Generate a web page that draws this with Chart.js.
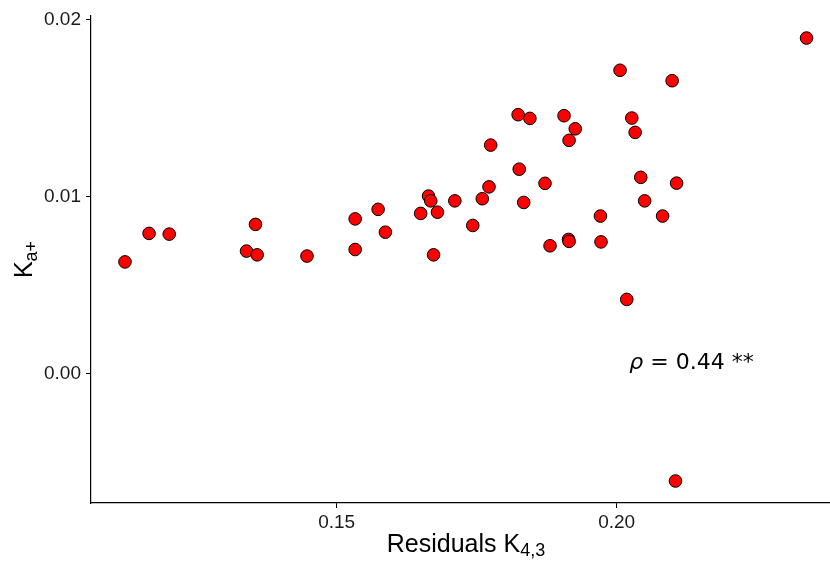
<!DOCTYPE html>
<html>
<head>
<meta charset="utf-8">
<script src="https://cdn.jsdelivr.net/npm/chart.js@4/dist/chart.umd.min.js"></script>
<style>
  html, body { margin: 0; padding: 0; background: #fff; }
  #wrap { width: 830px; height: 562px; position: relative; }
</style>
</head>
<body>
<div id="wrap"><canvas id="c" width="830" height="562"></canvas></div>
<script>
// ---- data ----
const residualsK43 = [
  0.1122, 0.1165, 0.1201, 0.1339, 0.1355, 0.1358, 0.1447, 0.1533, 0.1533, 0.1574,
  0.1587, 0.1650, 0.1664, 0.1668, 0.1673, 0.1680, 0.1711, 0.1743, 0.1760, 0.1772,
  0.1775, 0.1824, 0.1826, 0.1834, 0.1845, 0.1872, 0.1881, 0.1906, 0.1915, 0.1914,
  0.1915, 0.1926, 0.1971, 0.1972, 0.2006, 0.2018, 0.2027, 0.2033, 0.2043, 0.2050,
  0.2082, 0.2099, 0.2107, 0.2105, 0.2339
];
const kaPlus = [
  0.00633, 0.00794, 0.00790, 0.00694, 0.00845, 0.00673, 0.00666, 0.00876, 0.00703, 0.00930,
  0.00801, 0.00907, 0.01005, 0.00978, 0.00673, 0.00914, 0.00978, 0.00839, 0.00990, 0.01057,
  0.01293, 0.01465, 0.01157, 0.00969, 0.01444, 0.01077, 0.00724, 0.01459, 0.01320, 0.00760,
  0.00749, 0.01385, 0.00892, 0.00746, 0.01716, 0.00421, 0.01446, 0.01365, 0.01111, 0.00978,
  0.00892, 0.01657, 0.01078, -0.00605, 0.01898
];
const xTickValues = [0.15, 0.20];
const yTickValues = [0.00, 0.01, 0.02];
const xTitleMain = "Residuals K";
const xTitleSub = "4,3";
const yTitleMain = "K";
const yTitleSub = "a+";
const annotationSymbol = "\u03C1";
const annotationRest = " = 0.44 **";
const annotationX = 0.21336;
const annotationY = 0.00027;

const points = residualsK43.map((x, i) => ({ x: x, y: kaPlus[i] }));

const titlesPlugin = {
  id: 'titles',
  afterDraw(chart) {
    const ctx = chart.ctx;
    const ca = chart.chartArea;
    const xs = chart.scales.x, ys = chart.scales.y;
    ctx.save();
    ctx.fillStyle = '#000';
    ctx.textBaseline = 'alphabetic';
    // X title with subscript
    const mainFont = '25px "Liberation Sans", Arial, sans-serif';
    const subFont = '18px "Liberation Sans", Arial, sans-serif';
    ctx.font = mainFont;
    const wMain = ctx.measureText(xTitleMain).width;
    ctx.font = subFont;
    const wSub = ctx.measureText(xTitleSub).width;
    const cx = 466;
    const startX = cx - (wMain + wSub) / 2;
    ctx.textAlign = 'left';
    ctx.font = mainFont;
    ctx.fillText(xTitleMain, startX, 551.5);
    ctx.font = subFont;
    ctx.fillText(xTitleSub, startX + wMain, 555.5);
    // Y title with subscript (rotated)
    ctx.font = mainFont;
    const wyMain = ctx.measureText(yTitleMain).width;
    ctx.font = subFont;
    const wySub = ctx.measureText(yTitleSub).width;
    const cy = (ca.top + ca.bottom) / 2;
    ctx.save();
    ctx.translate(32, cy);
    ctx.rotate(-Math.PI / 2);
    const sy = -(wyMain + wySub) / 2;
    ctx.font = mainFont;
    ctx.fillText(yTitleMain, sy, 0);
    ctx.font = subFont;
    ctx.fillText(yTitleSub, sy + wyMain, 4.5);
    ctx.restore();
    // annotation: italic rho + rest
    const symFont = 'oblique 22px "DejaVu Sans", sans-serif';
    const restFont = '22px "DejaVu Sans", sans-serif';
    ctx.font = symFont;
    const w1 = ctx.measureText(annotationSymbol).width;
    ctx.font = restFont;
    const w2 = ctx.measureText(annotationRest).width;
    const acx = xs.getPixelForValue(annotationX);
    const acy = ys.getPixelForValue(annotationY);
    const ax = acx - (w1 + w2) / 2;
    ctx.textAlign = 'left';
    ctx.font = symFont;
    ctx.fillText(annotationSymbol, ax, acy);
    ctx.font = restFont;
    ctx.fillText(annotationRest, ax + w1, acy);
    ctx.restore();
  }
};

new Chart(document.getElementById('c'), {
  type: 'scatter',
  data: {
    datasets: [{
      data: points,
      backgroundColor: '#ff0000',
      borderColor: '#000000',
      borderWidth: 1,
      pointRadius: 6.3,
      pointHoverRadius: 6.3,
      clip: false
    }]
  },
  options: {
    responsive: false,
    devicePixelRatio: 1,
    animation: false,
    events: [],
    layout: { autoPadding: false, padding: { top: 16, right: 0, left: 0, bottom: 0 } },
    plugins: { legend: { display: false }, tooltip: { enabled: false } },
    scales: {
      x: {
        type: 'linear',
        min: 0.10613,
        max: 0.23809,
        afterBuildTicks(scale) { scale.ticks = xTickValues.map(v => ({ value: v })); },
        afterFit(scale) { scale.height = 59; scale.paddingRight = 0; scale.paddingLeft = 0; },
        ticks: {
          callback: v => Number(v).toFixed(2),
          color: '#1a1a1a',
          font: { family: '"Liberation Sans", Arial, sans-serif', size: 19 },
          padding: 3,
          maxRotation: 0
        },
        grid: { drawOnChartArea: false, drawTicks: true, tickLength: 5, color: '#000', lineWidth: 1 },
        border: { display: true, color: '#000', width: 1.2 }
      },
      y: {
        type: 'linear',
        min: -0.007294,
        max: 0.020226,
        afterBuildTicks(scale) { scale.ticks = yTickValues.map(v => ({ value: v })); },
        afterFit(scale) { scale.width = 91; scale.paddingTop = 0; scale.paddingBottom = 0; },
        ticks: {
          callback: v => Number(v).toFixed(2),
          color: '#1a1a1a',
          font: { family: '"Liberation Sans", Arial, sans-serif', size: 19 },
          padding: 5
        },
        grid: { drawOnChartArea: false, drawTicks: true, tickLength: 5, color: '#000', lineWidth: 1 },
        border: { display: true, color: '#000', width: 1.2 }
      }
    }
  },
  plugins: [titlesPlugin]
});
</script>
</body>
</html>
